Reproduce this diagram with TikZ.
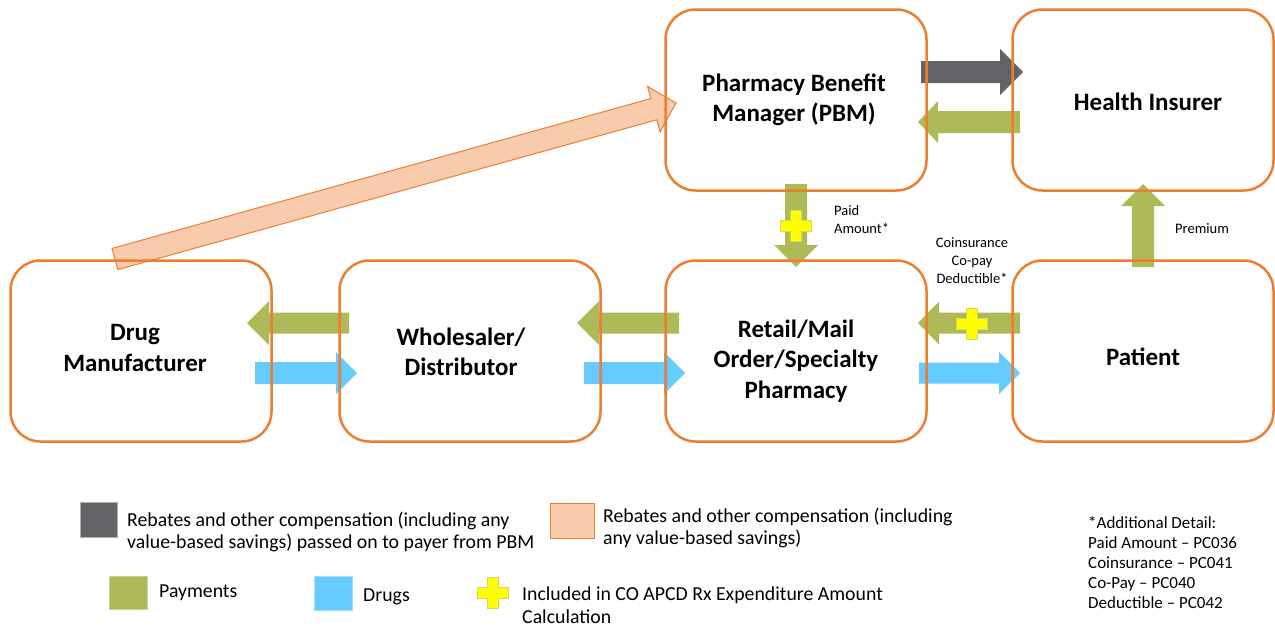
\documentclass[tikz,border=0pt]{standalone}
\usepackage{fontspec}
\setmainfont{Carlito}
\usetikzlibrary{calc,backgrounds}
\definecolor{boxorange}{RGB}{237,125,49}
\definecolor{rebgray}{RGB}{99,100,104}
\definecolor{paygreen}{RGB}{173,186,87}
\definecolor{paygreenline}{RGB}{200,210,140}
\definecolor{drugblue}{RGB}{102,204,255}
\definecolor{drugblueline}{RGB}{170,225,250}
\definecolor{peach}{RGB}{248,203,173}
\definecolor{plusyellow}{RGB}{255,255,0}
\definecolor{plusline}{RGB}{215,215,95}
\newcommand\barrow[6]{%
  \coordinate (hb) at ($(#3)!#6pt!(#2)$);
  \path[#1] ($(#2)!#4pt!90:(#3)$) -- ($(hb)!#4pt!90:(#3)$) -- ($(hb)!#5pt!90:(#3)$) -- (#3)
    -- ($(hb)!#5pt!-90:(#3)$) -- ($(hb)!#4pt!-90:(#3)$) -- ($(#2)!#4pt!-90:(#3)$) -- cycle;}
\newcommand\plusmark[1]{%
  \path[plusstyle] ($(#1)+(-5.5,-15.5)$) -- ++(11,0) -- ++(0,10) -- ++(10,0) -- ++(0,11) -- ++(-10,0)
    -- ++(0,10) -- ++(-11,0) -- ++(0,-10) -- ++(-10,0) -- ++(0,-11) -- ++(10,0) -- cycle;}
\tikzset{
  box/.style={draw=boxorange, line width=2.5pt, rounded corners=30pt, minimum width=261pt, minimum height=181pt, inner sep=0pt},
  boxtext/.style={font=\fontsize{25}{30.5}\selectfont\bfseries, align=center, inner sep=0pt},
  smalltext/.style={font=\fontsize{14.5}{18}\selectfont, inner sep=0pt},
  legtext/.style={font=\fontsize{19.8}{22.5}\selectfont, align=left, inner sep=0pt, anchor=west},
  detailtext/.style={font=\fontsize{17}{20}\selectfont, align=left, inner sep=0pt, anchor=west},
  grayarrow/.style={fill=rebgray},
  greenarrow/.style={fill=paygreen},
  bluearrow/.style={fill=drugblue},
  peacharrow/.style={fill=peach, draw=boxorange, line width=1pt, line join=miter},
  plusstyle/.style={fill=plusyellow, draw=plusline, line width=0.8pt},
}
\begin{document}
\begin{tikzpicture}[x=1pt,y=-1pt]
\useasboundingbox (0,0) rectangle (1275,627);
% boxes
\node[box] (drug) at (141,351) {};
\node[box] (ws)   at (470,351) {};
\node[box] (ret)  at (796,351) {};
\node[box] (pat)  at (1143,351) {};
\node[box] (pbm)  at (796,100) {};
\node[box] (ins)  at (1143,100) {};
\node[boxtext] (drugtxt) at (135,348) {Drug\\Manufacturer};
\node[boxtext] (wstxt)   at (461,352) {Wholesaler/\\Distributor};
\node[boxtext] (rettxt)  at (796,361) {Retail/Mail\\Order/Specialty\\Pharmacy};
\node[boxtext] (pattxt)  at (1143,357) {Patient};
\node[boxtext] (pbmtxt)  at (794,100) {Pharmacy Benefit\\Manager (PBM)};
\node[boxtext] (instxt)  at (1148,102) {Health Insurer};
% arrow end points
\coordinate (a1s) at (921,72);  \coordinate (a1e) at (1023,72);
\coordinate (a2s) at (1020,122); \coordinate (a2e) at (918,122);
\coordinate (a3s) at (796,184); \coordinate (a3e) at (796,267);
\coordinate (a4s) at (1143,267); \coordinate (a4e) at (1143,184);
\coordinate (a5s) at (1020,323); \coordinate (a5e) at (918,323);
\coordinate (a6s) at (919,373); \coordinate (a6e) at (1020,373);
\coordinate (a7s) at (349,323); \coordinate (a7e) at (247,323);
\coordinate (a8s) at (255,373); \coordinate (a8e) at (357,373);
\coordinate (a9s) at (679,323); \coordinate (a9e) at (577,323);
\coordinate (a10s) at (584,373); \coordinate (a10e) at (685,373);
\coordinate (a11s) at (115,259); \coordinate (a11e) at (676,103);
\begin{scope}[on background layer]
\barrow{grayarrow}{a1s}{a1e}{11}{23}{23}
\barrow{greenarrow}{a2s}{a2e}{11}{21}{20}
\barrow{greenarrow}{a3s}{a3e}{11}{22}{22}
\barrow{greenarrow}{a4s}{a4e}{11}{22}{22}
\barrow{greenarrow}{a5s}{a5e}{10.5}{21.5}{21}
\barrow{bluearrow}{a6s}{a6e}{10.5}{21}{21}
\barrow{greenarrow}{a7s}{a7e}{10.5}{22}{22}
\barrow{bluearrow}{a8s}{a8e}{11}{21}{21}
\barrow{greenarrow}{a9s}{a9e}{10.5}{22}{22}
\barrow{bluearrow}{a10s}{a10e}{11}{21}{21}
\barrow{peacharrow}{a11s}{a11e}{11}{23.5}{23}
\end{scope}
% plus marks
\coordinate (p1) at (796,226);
\coordinate (p2) at (972,324);
\coordinate (p3) at (493,593);
\plusmark{p1}
\plusmark{p2}
% flow labels
\node[smalltext, align=left, anchor=west] (paidlbl) at (834,220) {Paid\\Amount*};
\node[smalltext, align=center] (colbl) at (972,261) {Coinsurance\\Co-pay\\Deductible*};
\node[smalltext] (premlbl) at (1202,229) {Premium};
% legend
\node[draw=rebgray!50, line width=0.8pt, fill=rebgray, minimum width=37pt, minimum height=35pt, inner sep=0pt] (lg1) at (98.5,519.5) {};
\node[legtext] (lg1t) at (127,532) {Rebates and other compensation (including any\\value-based savings) passed on to payer from PBM};
\node[draw=boxorange, line width=0.8pt, fill=peach, minimum width=44pt, minimum height=35pt, inner sep=0pt] (lg2) at (572,520.5) {};
\node[legtext] (lg2t) at (603,528) {Rebates and other compensation (including\\any value-based savings)};
\node[draw=paygreenline, line width=0.8pt, fill=paygreen, minimum width=38pt, minimum height=33pt, inner sep=0pt] (lg3) at (128,592.5) {};
\node[legtext] (lg3t) at (159,593) {Payments};
\node[draw=drugblueline, line width=0.8pt, fill=drugblue, minimum width=38pt, minimum height=34pt, inner sep=0pt] (lg4) at (333,593) {};
\node[legtext] (lg4t) at (363,597) {Drugs};
\plusmark{p3}
\node[legtext] (lg5t) at (522,605) {Included in CO APCD Rx Expenditure Amount\\Calculation};
\node[detailtext] (detail) at (1088,563) {*Additional Detail:\\Paid Amount -- PC036\\Coinsurance -- PC041\\Co-Pay -- PC040\\Deductible -- PC042};
\end{tikzpicture}
\end{document}
